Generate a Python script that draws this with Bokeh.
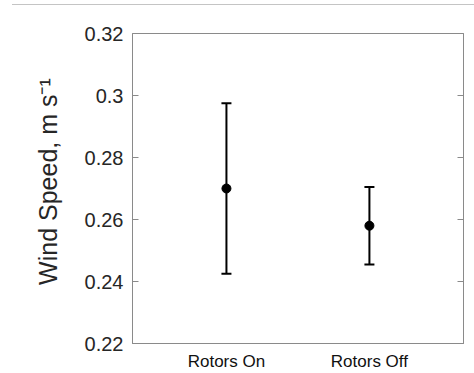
from bokeh.plotting import figure
from bokeh.models import (LinearAxis, FixedTicker, CustomJSTickFormatter, Whisker,
                          TeeHead, ColumnDataSource, Range1d, Div)
from bokeh.layouts import column
from bokeh.embed import file_html
from bokeh.resources import INLINE

categories = ["Rotors On", "Rotors Off"]
means = [0.270, 0.258]
errors = [0.0275, 0.0125]
yticks = [0.22, 0.24, 0.26, 0.28, 0.30, 0.32]

xpos = [i + 1 for i in range(len(categories))]
upper = [m + e for m, e in zip(means, errors)]
lower = [m - e for m, e in zip(means, errors)]
src = ColumnDataSource(dict(x=xpos, y=means, upper=upper, lower=lower))

FONT = "Liberation Sans"
GREY = "#8a8a8a"
TXT = "#262626"

p = figure(width=474, height=368,
           x_range=Range1d(0.343, 2.658), y_range=Range1d(yticks[0], yticks[-1]),
           output_backend="svg", toolbar_location=None,
           min_border_left=132, min_border_right=11, min_border_top=28, min_border_bottom=29)
p.grid.visible = False
p.outline_line_color = GREY
p.outline_line_width = 1
p.background_fill_color = "white"
p.border_fill_color = "white"

# x axis
xa = p.xaxis[0]
xa.ticker = FixedTicker(ticks=xpos)
xa.major_label_overrides = {x: c for x, c in zip(xpos, categories)}
xa.major_tick_line_color = None
xa.minor_tick_line_color = None
xa.axis_line_color = GREY
xa.major_label_text_font = FONT
xa.major_label_text_font_size = "17px"
xa.major_label_text_color = "#111111"
xa.major_label_standoff = 2

fmt = CustomJSTickFormatter(code="return tick.toFixed(2).replace(/0+$/, '');")

ya = p.yaxis[0]
ya.ticker = FixedTicker(ticks=yticks)
ya.formatter = fmt
ya.major_tick_in = 6
ya.major_tick_out = 0
ya.minor_tick_line_color = None
ya.major_tick_line_color = GREY
ya.axis_line_color = GREY
ya.major_label_text_font = FONT
ya.major_label_text_font_size = "20px"
ya.major_label_text_color = TXT
ya.major_label_standoff = 9
ya.axis_label = "\u00a0\u00a0Wind Speed, m s\u207b\u00b9"
ya.axis_label_text_font = FONT
ya.axis_label_text_font_size = "25px"
ya.axis_label_text_font_style = "normal"
ya.axis_label_text_color = TXT
ya.axis_label_standoff = 20

ra = LinearAxis(ticker=FixedTicker(ticks=yticks),
                formatter=CustomJSTickFormatter(code="return '';"))
ra.major_tick_in = 6
ra.major_tick_out = 0
ra.minor_tick_line_color = None
ra.major_tick_line_color = GREY
ra.axis_line_color = GREY
ra.major_label_standoff = 0
ra.major_label_text_font_size = "0px"
p.add_layout(ra, "right")

w = Whisker(source=src, base="x", upper="upper", lower="lower",
            line_color="black", line_width=2,
            upper_head=TeeHead(size=10, line_width=2, line_color="black"),
            lower_head=TeeHead(size=10, line_width=2, line_color="black"))
p.add_layout(w)
p.scatter("x", "y", source=src, size=9, color="black")

top_rule = Div(text="", width=462, height=4, margin=(0, 0, 0, 12),
               styles={"border-bottom": "1px solid #c4c4c4", "box-sizing": "content-box"})

layout = column(top_rule, p, spacing=0)

open("out.html", "w").write(file_html(layout, INLINE))
